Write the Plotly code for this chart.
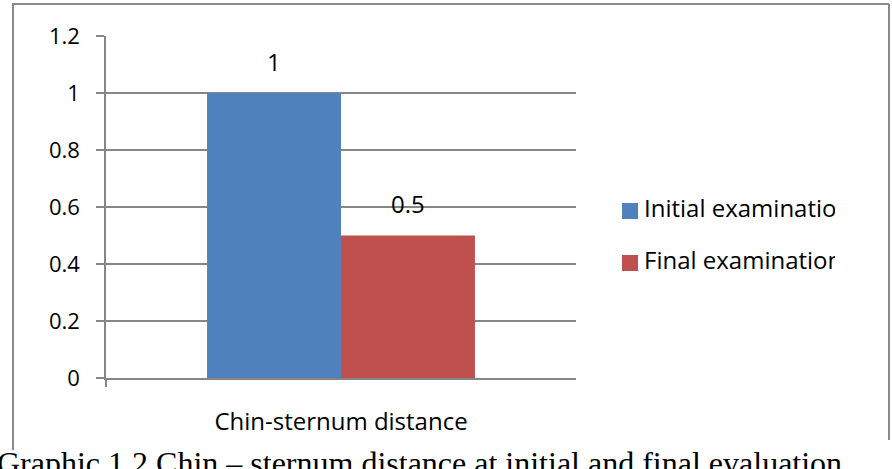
import plotly.graph_objects as go

categories = ["Chin-sternum distance"]
series_names = ["Initial examination", "Final examination"]
initial_values = [1]
final_values = [0.5]
y_ticks = [0, 0.2, 0.4, 0.6, 0.8, 1, 1.2]
caption = "Graphic 1.2 Chin \u2013 sternum distance at initial and final evaluation"

W, H = 892, 469
BLUE = "#4F81BD"
RED = "#C0504D"
GRID = "#868686"
FONT = "Open Sans"

def px_x(p):
    return p / W

def px_y(p):
    return 1 - p / H

fig = go.Figure()
fig.add_trace(go.Bar(x=categories, y=initial_values, name=series_names[0],
                     marker=dict(color=BLUE, line=dict(width=0)), showlegend=False))
fig.add_trace(go.Bar(x=categories, y=final_values, name=series_names[1],
                     marker=dict(color=RED, line=dict(width=0)), showlegend=False))

# legend drawn in a clipped sub-area (text is cut off as in the original)
legend_y = [211, 263]
for name, color, yy in zip(series_names, [BLUE, RED], legend_y):
    fig.add_trace(go.Scatter(x=[15], y=[yy], mode="markers",
                             marker=dict(symbol="square", size=16, color=color),
                             cliponaxis=True, showlegend=False,
                             xaxis="x2", yaxis="y2", hoverinfo="skip"))
    fig.add_trace(go.Scatter(x=[29], y=[yy], mode="text", text=[name],
                             textposition="middle right",
                             textfont=dict(family=FONT, size=24, color="#000000"),
                             cliponaxis=True, showlegend=False,
                             xaxis="x2", yaxis="y2", hoverinfo="skip"))

# data labels
for vals, shift in [(initial_values, -67), (final_values, 67)]:
    for c, v in zip(categories, vals):
        fig.add_annotation(x=c, y=v, text=f"{v:g}", showarrow=False, xshift=shift,
                           yshift=32, font=dict(family=FONT, size=24, color="#000000"))

fig.add_annotation(xref="paper", yref="paper", x=px_x(-5), y=px_y(463), xanchor="left",
                   yanchor="middle", text=caption, showarrow=False,
                   font=dict(family="Liberation Serif", size=32, color="#000000"))

# outer border
border = dict(color="#8a8a8a", width=2)
fig.add_shape(type="line", xref="paper", yref="paper", x0=px_x(13), x1=px_x(13), y0=px_y(4), y1=px_y(450), line=border)
fig.add_shape(type="line", xref="paper", yref="paper", x0=px_x(12), x1=px_x(889), y0=px_y(4), y1=px_y(4), line=border)
fig.add_shape(type="line", xref="paper", yref="paper", x0=px_x(889), x1=px_x(889), y0=px_y(4), y1=px_y(440), line=border)

fig.update_layout(
    width=W, height=H, margin=dict(l=0, r=0, t=0, b=0, autoexpand=False),
    paper_bgcolor="white", plot_bgcolor="white",
    barmode="group", bargap=0.43, bargroupgap=0,
    font=dict(family=FONT, size=22, color="#000000"),
    xaxis=dict(domain=[px_x(106), px_x(576)], type="category", showline=True, linecolor=GRID,
               linewidth=1.5, ticks="outside", tickson="boundaries", ticklen=7, tickcolor=GRID,
               tickwidth=1.5, showgrid=False, ticklabelstandoff=21, automargin=False,
               tickfont=dict(family=FONT, size=24)),
    yaxis=dict(domain=[px_y(378), px_y(36)], range=[0, 1.2], tickvals=y_ticks,
               ticktext=[f"{t:g}" for t in y_ticks], showline=True, linecolor=GRID,
               linewidth=1.5, ticks="outside", ticklen=8, tickcolor=GRID, tickwidth=1.5,
               showgrid=True, gridcolor=GRID, gridwidth=1.5, zeroline=False, automargin=False,
               ticklabelstandoff=12, tickfont=dict(family=FONT, size=22)),
    xaxis2=dict(domain=[px_x(615), px_x(835)], range=[0, 220], visible=False, anchor="y2",
                automargin=False),
    yaxis2=dict(domain=[px_y(300), px_y(180)], range=[300, 180], visible=False, anchor="x2",
                automargin=False),
)

fig.write_html("out.html")
